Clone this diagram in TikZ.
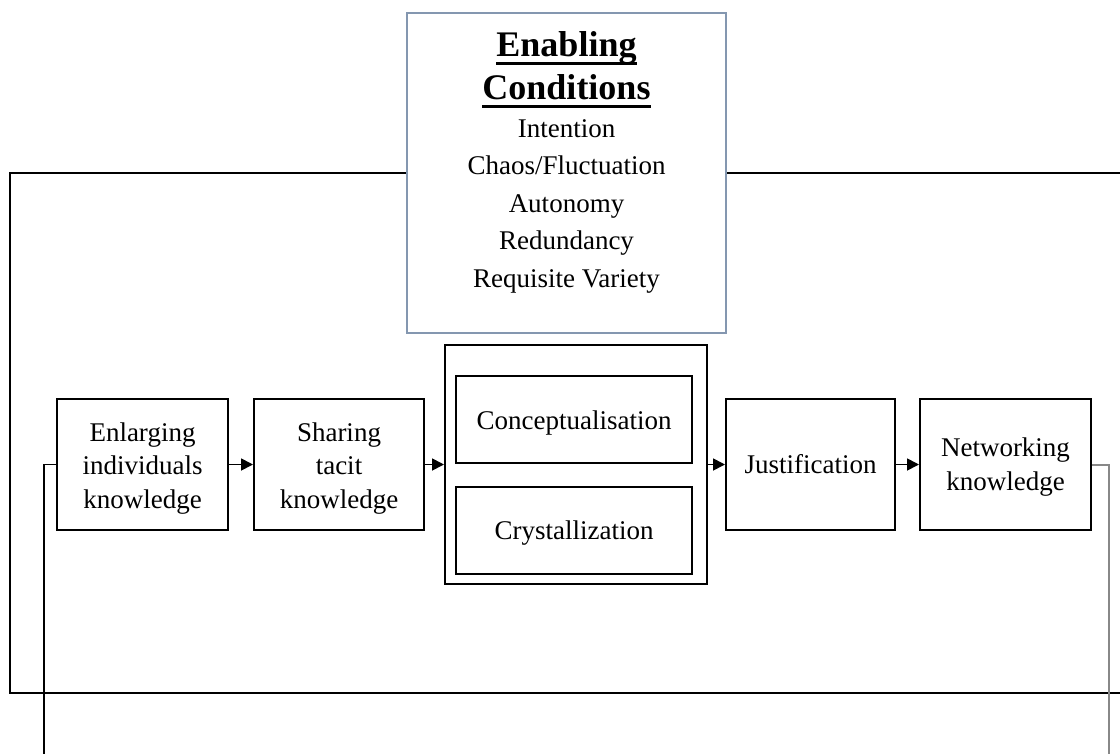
\documentclass[tikz,border=0pt]{standalone}
\usepackage{fontspec}
\setmainfont{Liberation Serif}
\usetikzlibrary{arrows.meta}
\definecolor{ecblue}{RGB}{132,151,176}
\definecolor{fbgray}{RGB}{136,136,136}
\tikzset{
  stagebox/.style={draw=black, line width=2pt, fill=white, inner sep=0pt},
  stagetext/.style={align=center, inner sep=0pt, font=\fontsize{27}{33.5}\selectfont},
  flow/.style={line width=1.8pt, -{Triangle[length=12pt,width=12pt]}},
  eclist/.style={anchor=base, inner sep=0pt, font=\fontsize{27}{33}\selectfont},
  ectitle/.style={anchor=base, inner sep=0pt, font=\fontsize{36}{41}\selectfont\bfseries},
  uline/.style={line width=3pt},
  outer/.style={draw=black, line width=2pt},
}
\begin{document}
\begin{tikzpicture}[x=1pt,y=-1pt]
\useasboundingbox (0,0) rectangle (1120,753);
\clip (0,0) rectangle (1120,753);
\fill[white] (0,0) rectangle (1120,753);
% outer frame
\draw[outer] (1140,173) -- (10,173) -- (10,693) -- (1140,693);
% enabling conditions
\node[draw=ecblue, line width=2pt, fill=white, minimum width=319pt, minimum height=320pt, inner sep=0pt] (ec) at (566.5,173) {};
\node[ectitle] (t1) at (566.5,56) {Enabling};
\node[ectitle] (t2) at (566.5,99) {Conditions};
\draw[uline] ([yshift=-7pt]t1.base west) -- ([yshift=-7pt]t1.base east);
\draw[uline] ([yshift=-7pt]t2.base west) -- ([yshift=-7pt]t2.base east);
\node[eclist] (c1) at (566.5,137) {Intention};
\node[eclist] (c2) at (566.5,174.5) {Chaos/Fluctuation};
\node[eclist] (c3) at (566.5,212) {Autonomy};
\node[eclist] (c4) at (566.5,249.5) {Redundancy};
\node[eclist] (c5) at (566.5,287) {Requisite Variety};
% stages
\node[stagebox, minimum width=171pt, minimum height=131pt] (enl) at (142.5,464.5) {};
\node[stagebox, minimum width=170pt, minimum height=131pt] (sha) at (339,464.5) {};
\node[stagebox, minimum width=262pt, minimum height=239pt] (mid) at (576,464.5) {};
\node[stagebox, minimum width=236pt, minimum height=87pt] (con) at (574,419.5) {};
\node[stagebox, minimum width=236pt, minimum height=87pt] (cry) at (574,530.5) {};
\node[stagebox, minimum width=169pt, minimum height=131pt] (jus) at (810.5,464.5) {};
\node[stagebox, minimum width=171pt, minimum height=131pt] (net) at (1005.5,464.5) {};
\node[stagetext] (enlT) at ([yshift=-4pt]enl.center) {Enlarging\\individuals\\knowledge};
\node[stagetext] (shaT) at ([yshift=-4pt]sha.center) {Sharing\\tacit\\knowledge};
\node[stagetext] (conT) at ([yshift=-3.5pt]con.center) {Conceptualisation};
\node[stagetext] (cryT) at ([yshift=-3pt]cry.center) {Crystallization};
\node[stagetext] (jusT) at ([yshift=0pt]jus.center) {Justification};
\node[stagetext] (netT) at ([yshift=-2.5pt]net.center) {Networking\\knowledge};
% flow arrows
\draw[flow] (enl.east) -- (sha.west);
\draw[flow] (sha.east) -- (mid.west);
\draw[flow] (mid.east) -- (jus.west);
\draw[flow] (jus.east) -- (net.west);
% feedback lines
\coordinate (lb) at (44,770);
\coordinate (rb) at (1109,770);
\draw[black, line width=1.6pt] (enl.west) -| (lb);
\draw[fbgray, line width=2pt] (net.east) -| (rb);
\end{tikzpicture}
\end{document}
